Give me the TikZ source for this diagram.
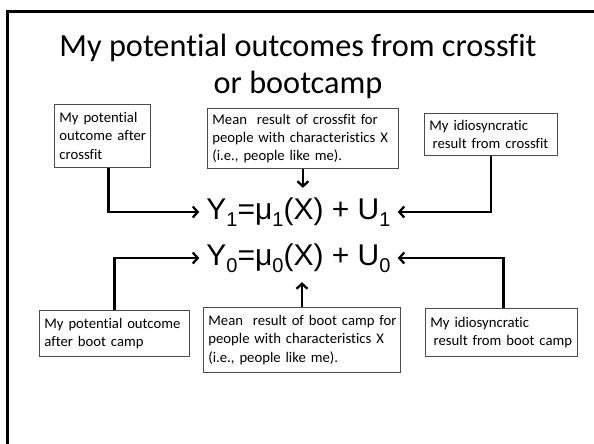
\documentclass[tikz,border=0pt]{standalone}
\usepackage{fontspec}
\setmainfont{Carlito}[RawFeature={-liga;-clig;-calt;-dlig;-rlig;-ccmp}]
\newfontfamily\eqfont{Liberation Sans}
\usetikzlibrary{arrows.meta}
\newcommand\sbx[1]{\raisebox{-0.24em}{\fontsize{20}{20}\selectfont #1}}
\begin{document}
\begin{tikzpicture}[x=1pt,y=-1pt,
  box/.style={draw=black!70,line width=0.8pt,inner xsep=5pt,inner ysep=0pt,anchor=north west,align=left,font=\fontsize{14.7}{18.3}\selectfont},
  eq/.style={font=\eqfont\fontsize{30}{36}\selectfont,inner sep=0pt,minimum width=198pt,minimum height=48pt},
  conn/.style={line width=2.3pt,-{Straight Barb[length=5pt,width=11pt]}},
  frame/.style={line width=3pt}
]
\useasboundingbox (0,0) rectangle (594,444);
\fill[white] (0,0) rectangle (594,444);
\draw[frame] (7.5,444) -- (7.5,11.5) -- (594,11.5);

\node[font=\fontsize{32.3}{37}\selectfont,align=center,inner sep=0pt] (title) at (298,66.5) {My potential outcomes from crossfit\\or bootcamp};

\node[box,text width=86pt,minimum height=63pt] (A) at (54,104) {\mbox{My potential}\\\mbox{outcome after}\\crossfit};
\node[box,text width=181pt,minimum height=60pt] (B) at (207,108) {\mbox{Mean\ \ result of crossfit for}\\\mbox{people with characteristics X}\\\mbox{(i.e., people like me).}};
\node[box,text width=123pt,minimum height=42pt] (C) at (424,113) {\mbox{My idiosyncratic}\\\hspace*{3.3pt}\mbox{result from crossfit}};

\node[eq] (eq1) at (298.5,212) {Y\sbx{1}=μ\sbx{1}(X) + U\sbx{1}};
\node[eq] (eq2) at (298.5,258) {Y\sbx{0}=μ\sbx{0}(X) + U\sbx{0}};

\node[box,text width=140pt,minimum height=46pt] (D) at (39,310) {\mbox{My potential outcome}\\\mbox{after boot camp}};
\node[box,text width=187pt,minimum height=65pt] (E) at (203,307) {\mbox{Mean\ \ result of boot camp for}\\\mbox{people with characteristics X}\\\mbox{(i.e., people like me).}};
\node[box,text width=142pt,minimum height=48pt] (F) at (425,308) {\mbox{My idiosyncratic}\\\hspace*{3.3pt}\mbox{result from boot camp}};

\draw[conn] ([xshift=6pt]A.south) |- (eq1.west);
\draw[conn] (B.south) -- (B.south |- eq1.north);
\draw[conn] (C.south) |- (eq1.east);
\draw[conn] (D.north) |- (eq2.west);
\draw[conn] ([xshift=3.5pt]eq2.south |- E.north) -- ([xshift=3.5pt]eq2.south);
\draw[conn] ([xshift=2pt]F.north) |- (eq2.east);
\end{tikzpicture}
\end{document}
